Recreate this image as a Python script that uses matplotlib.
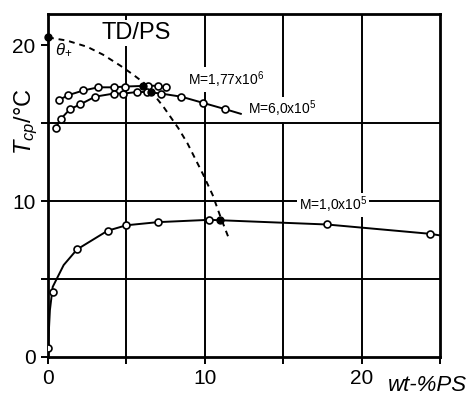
import numpy as np
import matplotlib
matplotlib.use("Agg")
import matplotlib.pyplot as plt

plt.rcParams['font.family'] = ['Liberation Sans', 'DejaVu Sans']
plt.rcParams['mathtext.fontset'] = 'custom'
plt.rcParams['mathtext.rm'] = 'Liberation Sans'
plt.rcParams['mathtext.it'] = 'Liberation Sans:italic'

# measured points (wt-% PS, T_cp in degC)
m1_x = [0.0, 0.3, 1.85, 3.8, 5.0, 7.0, 10.3, 17.8, 24.4]
m1_y = [0.6, 4.2, 6.9, 8.1, 8.45, 8.65, 8.8, 8.5, 7.9]
m1_line_x = [0.0, 0.12, 0.3, 1.0, 1.85, 3.8, 5.0, 7.0, 10.3, 17.8, 24.4, 25.0]
m1_line_y = [0.6, 3.0, 4.5, 5.9, 6.9, 8.1, 8.45, 8.65, 8.8, 8.5, 7.9, 7.8]

m177_x = [0.72, 1.3, 2.26, 3.2, 4.2, 4.9, 6.4, 7.0, 7.5]
m177_y = [16.5, 16.8, 17.1, 17.3, 17.3, 17.35, 17.4, 17.4, 17.3]

m60_x = [0.5, 0.8, 1.4, 2.05, 3.0, 4.2, 4.8, 5.7, 6.3, 7.2, 8.5, 9.9, 11.3]
m60_y = [14.7, 15.25, 15.9, 16.2, 16.7, 16.9, 16.9, 17.0, 17.0, 16.9, 16.7, 16.3, 15.9]
m60_end_x = 12.3
m60_end_y = 15.6

# theta line (dashed)
th_x = [0.0, 1.2, 2.5, 3.5, 4.6, 5.45, 6.1, 6.7, 7.4, 8.3, 8.9, 9.9, 10.5, 11.0, 11.5]
th_y = [20.5, 20.3, 19.9, 19.4, 18.7, 18.1, 17.6, 16.9, 16.0, 14.7, 13.7, 11.7, 10.4, 9.0, 7.7]

# filled points (intersections)
fill_x = [0.0, 6.05, 6.55, 11.0]
fill_y = [20.5, 17.4, 17.0, 8.8]

fig = plt.figure(figsize=(4.73, 3.96), dpi=100)
ax = fig.add_axes([0.1015, 0.0985, 0.8285, 0.866])

for gx in [5, 10, 15, 20]:
    ax.axvline(gx, color='black', lw=1.4, zorder=1)
for gy in [5, 10, 15]:
    ax.axhline(gy, color='black', lw=1.4, zorder=1)

mk = dict(marker='o', ms=5, mfc='white', mec='black', mew=1.2, ls='none', zorder=4)

ax.plot(m1_line_x, m1_line_y, color='black', lw=1.4, zorder=3)
ax.plot(m1_x, m1_y, **mk)

ax.plot(m177_x, m177_y, color='black', lw=1.4, zorder=3)
ax.plot(m177_x, m177_y, **mk)

ax.plot(m60_x + [m60_end_x], m60_y + [m60_end_y], color='black', lw=1.4, zorder=3)
ax.plot(m60_x, m60_y, **mk)

ax.plot(th_x, th_y, color='black', lw=1.4, ls=(0, (3, 2.5)), zorder=3)
ax.plot(fill_x, fill_y, 'o', color='black', ms=5, zorder=5, clip_on=False)

box = dict(facecolor='white', edgecolor='none', pad=1.5)
ax.text(5.6, 20.8, 'TD/PS', fontsize=17, ha='center', va='center', bbox=box, zorder=2)
ax.text(0.45, 19.7, r'$\theta_{+}$', fontsize=12, ha='left', va='center', zorder=2)
ax.text(8.9, 17.8, r'M=1,77x10$^6$', fontsize=10, ha='left', va='center', bbox=box, zorder=2)
ax.text(12.75, 15.9, r'M=6,0x10$^5$', fontsize=10, ha='left', va='center', bbox=box, zorder=2)
ax.text(16.0, 9.75, r'M=1,0x10$^5$', fontsize=10, ha='left', va='center', bbox=box, zorder=2)

ax.set_xlim(0, 25)
ax.set_ylim(0, 22)
ax.set_xticks([0, 5, 10, 15, 20, 25])
ax.set_xticklabels(['0', '', '10', '', '20', ''])
ax.set_yticks([0, 5, 10, 15, 20])
ax.set_yticklabels(['0', '', '10', '', '20'])
ax.tick_params(direction='out', length=5, width=1.4, labelsize=15, pad=4)
for s in ax.spines.values():
    s.set_linewidth(2)

ax.text(21.7, -1.85, 'wt-%PS', fontsize=16, style='italic', ha='left', va='center', clip_on=False)
fig.text(26 / 473, 1 - 122 / 396, r'$T_{cp}$/°C', fontsize=17, rotation=90, ha='center', va='center')

fig.savefig('out.png', dpi=100)
